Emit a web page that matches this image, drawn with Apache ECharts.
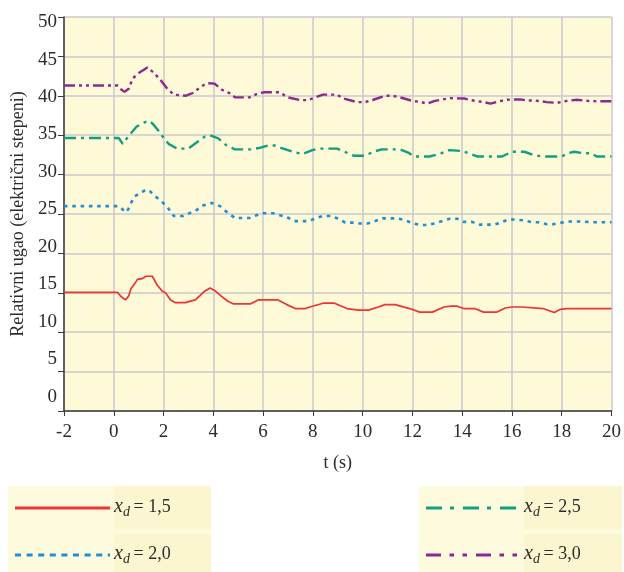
<!DOCTYPE html>
<html>
<head>
<meta charset="utf-8">
<script src="https://cdn.jsdelivr.net/npm/echarts@6/dist/echarts.min.js"></script>
<style>
  html, body { margin: 0; padding: 0; background: #ffffff; }
  #chart { width: 624px; height: 572px; }
</style>
</head>
<body>
<div id="chart"></div>
<script>
// Time axis, seconds
const tRange = [-2, 20];
const tStep = 2;

// Rotor angle axis, electrical degrees
const angleRange = [0, 50];
const angleStep = 5;
const angleTickLabels = [0, 5, 10, 15, 20, 25, 30, 35, 40, 45, 50];

// Values of x_d shown in the legend
const xdValues = ['1,5', '2,0', '2,5', '3,0'];

// Relative angle vs time, one array of [t, angle] per x_d
const angleXd15 = [
  [-2, 15.05], [0.15, 15.05], [0.3, 14.5], [0.47, 14.1], [0.6, 14.6], [0.69, 15.5], [0.85, 16.2],
  [0.95, 16.7], [1.15, 16.8], [1.29, 17.1], [1.55, 17.1], [1.75, 15.95], [1.95, 15.2], [2.08, 15.0],
  [2.28, 14.1], [2.48, 13.75], [2.88, 13.75], [3.08, 13.95], [3.28, 14.1], [3.45, 14.6], [3.65, 15.2],
  [3.87, 15.6], [4.05, 15.3], [4.33, 14.55], [4.6, 13.9], [4.8, 13.6], [5.5, 13.6], [5.8, 14.1],
  [6.6, 14.1], [6.95, 13.5], [7.3, 13.0], [7.7, 13.0], [7.98, 13.3], [8.45, 13.7], [8.85, 13.7],
  [9.37, 13.0], [9.84, 12.8], [10.23, 12.8], [10.63, 13.2], [10.9, 13.5], [11.3, 13.5], [11.89, 13.0],
  [12.3, 12.55], [12.8, 12.55], [13.27, 13.2], [13.55, 13.3], [13.8, 13.3], [14.06, 13.0], [14.5, 13.0],
  [14.86, 12.55], [15.4, 12.55], [15.73, 13.07], [16.0, 13.2], [16.4, 13.2], [16.45, 13.0], [17.25, 13.0],
  [17.7, 12.5], [17.95, 12.9], [18.2, 13.0], [20, 13.0]
];

const angleXd20 = [
  [-2, 26.0], [0.2, 26.0], [0.35, 25.6], [0.46, 25.2], [0.58, 25.6], [0.65, 26.1], [0.82, 27.2],
  [1.15, 27.8], [1.3, 28.1], [1.45, 27.9], [1.62, 27.4], [1.95, 26.5], [2.15, 25.9], [2.41, 24.75],
  [2.8, 24.75], [3.0, 25.05], [3.28, 25.4], [3.6, 26.1], [3.94, 26.4], [4.27, 26.0], [4.6, 25.1],
  [4.87, 24.5], [5.46, 24.5], [5.7, 24.8], [6.0, 25.1], [6.4, 25.1], [6.96, 24.6], [7.25, 24.1],
  [7.85, 24.1], [8.1, 24.45], [8.4, 24.75], [8.7, 24.75], [9.04, 24.4], [9.3, 23.9], [9.65, 23.9],
  [9.9, 23.8], [10.2, 23.8], [10.5, 24.1], [10.8, 24.45], [11.4, 24.45], [11.7, 24.2], [12.0, 23.85],
  [12.3, 23.6], [12.6, 23.6], [12.87, 23.8], [13.2, 24.1], [13.5, 24.4], [13.8, 24.4], [14.06, 24.0],
  [14.4, 24.0], [14.7, 23.65], [15.3, 23.65], [15.5, 23.85], [15.85, 24.3], [16.1, 24.3], [16.45, 24.2],
  [16.8, 23.95], [17.05, 23.95], [17.4, 23.7], [17.65, 23.7], [17.9, 23.85], [18.24, 24.05],
  [18.85, 24.05], [19.2, 23.95], [20, 23.95]
];

const angleXd25 = [
  [-2, 34.65], [0.2, 34.65], [0.36, 33.9], [0.62, 35.0], [0.92, 36.1], [1.29, 36.7], [1.42, 36.8],
  [1.55, 36.5], [1.79, 35.6], [2.02, 34.6], [2.2, 33.9], [2.55, 33.3], [3.0, 33.3], [3.34, 34.1],
  [3.67, 34.85], [3.87, 35.0], [4.2, 34.6], [4.53, 33.7], [4.87, 33.2], [5.53, 33.2], [5.86, 33.4],
  [6.2, 33.7], [6.46, 33.7], [6.72, 33.4], [7.18, 32.9], [7.58, 32.6], [7.98, 33.1], [8.25, 33.3],
  [8.97, 33.3], [9.24, 32.95], [9.64, 32.4], [10.1, 32.4], [10.43, 32.9], [10.76, 33.2], [11.5, 33.2],
  [11.83, 32.8], [12.08, 32.3], [12.68, 32.3], [13.08, 32.6], [13.48, 33.1], [14.0, 33.0], [14.34, 32.6],
  [14.6, 32.3], [15.6, 32.3], [16.0, 32.9], [16.5, 32.9], [16.85, 32.5], [17.2, 32.3], [18.0, 32.3],
  [18.24, 32.7], [18.5, 32.9], [18.9, 32.7], [19.2, 32.7], [19.4, 32.3], [20, 32.3]
];

const angleXd30 = [
  [-2, 41.3], [0.16, 41.3], [0.3, 40.8], [0.43, 40.5], [0.6, 40.9], [0.76, 42.2], [1.05, 43.0],
  [1.35, 43.6], [1.62, 42.9], [1.88, 42.0], [2.15, 40.9], [2.41, 40.15], [2.88, 40.0], [3.21, 40.4],
  [3.47, 41.1], [3.74, 41.6], [4.05, 41.55], [4.33, 40.8], [4.67, 40.3], [4.87, 39.8], [5.46, 39.8],
  [5.8, 40.3], [6.06, 40.45], [6.66, 40.45], [6.99, 39.8], [7.5, 39.45], [7.8, 39.45], [8.1, 39.8],
  [8.4, 40.15], [8.97, 40.15], [9.24, 39.65], [9.77, 39.2], [10.1, 39.2], [10.43, 39.5], [10.9, 40.0],
  [11.2, 40.0], [11.56, 39.75], [12.0, 39.35], [12.35, 39.2], [12.6, 39.0], [12.9, 39.35], [13.15, 39.5],
  [13.5, 39.7], [14.1, 39.65], [14.34, 39.45], [14.87, 39.2], [15.14, 39.0], [15.47, 39.3], [15.8, 39.5],
  [16.33, 39.55], [16.6, 39.4], [16.93, 39.4], [17.4, 39.2], [17.8, 39.1], [18.1, 39.3], [18.6, 39.5],
  [19.05, 39.35], [19.5, 39.3], [20, 39.3]
];

const SERIF = "'Liberation Serif', 'DejaVu Serif', serif";
const TEXT_COLOR = '#2b2b2b';
const GRID_COLOR = '#c9c9cc';
const AXIS_COLOR = '#3a3a3a';

const curves = [
  { data: angleXd15, color: '#ee3333', width: 1.7, dash: 'solid',            legendDash: null },
  { data: angleXd20, color: '#1d8fd6', width: 2.6, dash: [3.5, 4.8],         legendDash: [6, 5.6] },
  { data: angleXd25, color: '#10a07e', width: 2.4, dash: [12, 5, 3, 5],      legendDash: [16, 8, 4, 9] },
  { data: angleXd30, color: '#8e288e', width: 2.4, dash: [11, 4, 3, 4, 3, 4], legendDash: [15, 8.5, 4.5, 8.5, 4.5, 9] }
];

const chart = echarts.init(document.getElementById('chart'), null, { renderer: 'canvas' });

// Legend: two shaded boxes, each with a line sample cell and a text cell per row
const legendBoxes = [
  { left: 8,   right: 211, textLeft: 114, lineFrom: 15,  lineTo: 110, items: [0, 1] },
  { left: 419, right: 622, textLeft: 524, lineFrom: 426, lineTo: 519, items: [2, 3] }
];
const legendRows = [
  { top: 486, bottom: 529, lineY: 508, baseline: 513 },
  { top: 534, bottom: 572, lineY: 555, baseline: 560 }
];

const graphics = [];
legendBoxes.forEach(box => {
  graphics.push({
    type: 'rect', silent: true, z: 1,
    shape: { x: box.left, y: legendRows[0].top, width: box.right - box.left, height: 572 - legendRows[0].top },
    style: { fill: '#fefade' }
  });
  box.items.forEach((idx, r) => {
    const row = legendRows[r];
    const c = curves[idx];
    graphics.push({
      type: 'rect', silent: true, z: 2,
      shape: { x: box.textLeft, y: row.top, width: box.right - box.textLeft, height: row.bottom - row.top },
      style: { fill: '#fcf6d0' }
    });
    graphics.push({
      type: 'line', silent: true, z: 3,
      shape: { x1: box.lineFrom, y1: row.lineY, x2: box.lineTo, y2: row.lineY },
      style: { stroke: c.color, lineWidth: 3, lineDash: c.legendDash || null }
    });
    graphics.push({
      type: 'text', silent: true, z: 3,
      style: { x: box.textLeft, y: row.baseline - 6, text: 'x', font: 'italic 20px ' + SERIF,
               fill: TEXT_COLOR, verticalAlign: 'middle', align: 'left' }
    });
    graphics.push({
      type: 'text', silent: true, z: 3,
      style: { x: box.textLeft + 9, y: row.baseline - 1, text: 'd', font: 'italic 14px ' + SERIF,
               fill: TEXT_COLOR, verticalAlign: 'middle', align: 'left' }
    });
    graphics.push({
      type: 'text', silent: true, z: 3,
      style: { x: box.textLeft + 19.5, y: row.baseline - 6, text: '= ' + xdValues[idx], font: '18px ' + SERIF,
               fill: TEXT_COLOR, verticalAlign: 'middle', align: 'left' }
    });
  });
});

const option = {
  animation: false,
  backgroundColor: '#ffffff',
  grid: {
    left: 64, right: 7, top: 17, bottom: 161,
    show: true, backgroundColor: '#fef9d7', borderWidth: 0
  },
  xAxis: {
    type: 'value',
    min: tRange[0], max: tRange[1], interval: tStep,
    name: 't (s)',
    nameLocation: 'middle',
    nameGap: 43,
    nameTextStyle: { fontFamily: SERIF, fontSize: 18, color: TEXT_COLOR },
    axisLine: { show: true, onZero: false, lineStyle: { color: AXIS_COLOR, width: 1.5 } },
    axisTick: { show: true, inside: false, length: 5, lineStyle: { color: AXIS_COLOR, width: 1 } },
    axisLabel: { fontFamily: SERIF, fontSize: 19, color: TEXT_COLOR, margin: 12 },
    splitLine: { show: true, lineStyle: { color: GRID_COLOR, width: 1.5 } }
  },
  yAxis: [
    {
      type: 'value',
      min: angleRange[0], max: angleRange[1], interval: angleStep,
      name: 'Relativni ugao (električni stepeni)',
      nameLocation: 'middle',
      nameGap: 37,
      nameRotate: 90,
      nameTextStyle: { fontFamily: SERIF, fontSize: 18, color: TEXT_COLOR },
      axisLine: { show: true, onZero: false, lineStyle: { color: AXIS_COLOR, width: 1.5 } },
      axisTick: { show: true, inside: false, length: 6, lineStyle: { color: AXIS_COLOR, width: 1 } },
      axisLabel: { show: false },
      splitLine: { show: true, lineStyle: { color: GRID_COLOR, width: 1.5 } }
    },
    {
      // Tick label column, set slightly apart from the gridlines
      type: 'value',
      position: 'left',
      min: -1.93, max: 50.69,
      axisLine: { show: false },
      axisTick: { show: false },
      splitLine: { show: false },
      axisLabel: {
        customValues: angleTickLabels,
        fontFamily: SERIF, fontSize: 19, color: TEXT_COLOR, margin: 7
      }
    }
  ],
  graphic: graphics,
  series: curves.map((c, i) => ({
    name: 'x_d = ' + xdValues[i],
    type: 'line',
    xAxisIndex: 0,
    yAxisIndex: 0,
    data: c.data,
    showSymbol: false,
    symbol: 'none',
    smooth: false,
    lineStyle: { color: c.color, width: c.width, type: c.dash, cap: 'butt' },
    z: 3 + i
  }))
};

chart.setOption(option);
</script>
</body>
</html>
